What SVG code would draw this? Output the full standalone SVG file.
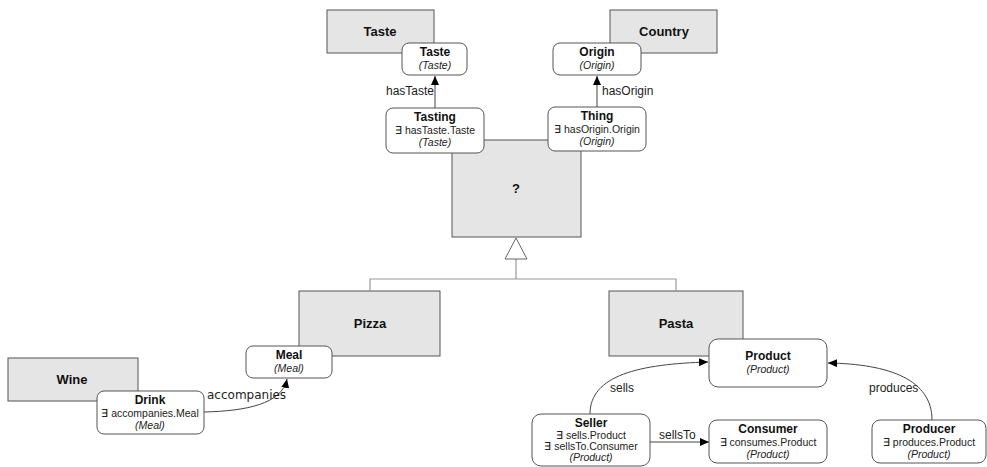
<svg xmlns="http://www.w3.org/2000/svg" width="987" height="467" viewBox="0 0 987 467">
  <style>
    .cls { fill: #e5e5e5; stroke: #555; stroke-width: 1; }
    .node { fill: #fff; stroke: #555; stroke-width: 1; }
    .big { font-family: "Liberation Sans", Arial, sans-serif; font-size: 13px; font-weight: bold; text-anchor: middle; fill: #111; }
    .t { font-family: "Liberation Sans", Arial, sans-serif; font-size: 12px; font-weight: bold; text-anchor: middle; fill: #111; }
    .s { font-family: "Liberation Sans", Arial, sans-serif; font-size: 10.5px; text-anchor: middle; fill: #222; }
    .i { font-family: "Liberation Sans", Arial, sans-serif; font-size: 10.5px; font-style: italic; text-anchor: middle; fill: #222; }
    .lbl { font-family: "Liberation Sans", Arial, sans-serif; font-size: 12px; fill: #222; }
    .lbl2 { font-family: "DejaVu Sans", sans-serif; font-size: 12px; fill: #222; }
    .edge { fill: none; stroke: #444; stroke-width: 1; }
    .isa { fill: none; stroke: #999; stroke-width: 1.2; }
  </style>
  <defs>
    <marker id="arrow" markerUnits="userSpaceOnUse" markerWidth="9" markerHeight="8" refX="9" refY="4" orient="auto">
      <path d="M0,0 L9,4 L0,8 z" fill="#000"/>
    </marker>
  </defs>

  <rect width="987" height="467" fill="#fff"/>

  <!-- concept boxes -->
  <g id="taste-class"><rect class="cls" x="327" y="10" width="107" height="43"/><text class="big" x="380" y="36">Taste</text></g>
  <g id="country-class"><rect class="cls" x="610" y="10" width="107" height="43"/><text class="big" x="664" y="36">Country</text></g>
  <g id="unknown-class"><rect class="cls" x="452" y="140" width="129" height="97"/><text class="big" x="516" y="193">?</text></g>
  <g id="pizza-class"><rect class="cls" x="299" y="291" width="141" height="65"/><text class="big" x="370" y="328">Pizza</text></g>
  <g id="pasta-class"><rect class="cls" x="609" y="291" width="134" height="65"/><text class="big" x="676" y="328">Pasta</text></g>
  <g id="wine-class"><rect class="cls" x="8" y="358" width="130" height="43"/><text class="big" x="72" y="384">Wine</text></g>

  <!-- connectors -->
  <g id="connectors">
    <path class="isa" d="M516,259 V279 M370,291 V279 H676 V291"/>
    <path d="M516,238 L527,259 L505,259 z" fill="#fff" stroke="#666" stroke-width="1"/>
    <path class="edge" d="M435,108 V76" marker-end="url(#arrow)"/>
    <path class="edge" d="M597,107 V76" marker-end="url(#arrow)"/>
    <path class="edge" d="M204,412 C246,411 282,404 287,379" marker-end="url(#arrow)"/>
    <path class="edge" d="M590,414 C590,375 640,364 708,362" marker-end="url(#arrow)"/>
    <path class="edge" d="M932,420 C932,380 890,364 828,363" marker-end="url(#arrow)"/>
    <path class="edge" d="M650,442 H709" marker-end="url(#arrow)"/>
    <text class="lbl" x="434" y="95" text-anchor="end">hasTaste</text>
    <text class="lbl" x="602" y="95">hasOrigin</text>
    <text class="lbl2" x="207" y="399">accompanies</text>
    <text class="lbl" x="610" y="392">sells</text>
    <text class="lbl" x="869" y="392">produces</text>
    <text class="lbl" x="659" y="439">sellsTo</text>
  </g>

  <!-- role nodes -->
  <g id="taste-node"><rect class="node" x="402" y="43" width="65" height="32" rx="7"/><text class="t" x="435" y="56">Taste</text><text class="i" x="435" y="69">(Taste)</text></g>
  <g id="origin-node"><rect class="node" x="553" y="43" width="88" height="32" rx="7"/><text class="t" x="597" y="56">Origin</text><text class="i" x="597" y="69">(Origin)</text></g>
  <g id="tasting-node"><rect class="node" x="386" y="108" width="98" height="45" rx="7"/><text class="t" x="435" y="121">Tasting</text><text class="s" x="435" y="134">∃ hasTaste.Taste</text><text class="i" x="435" y="146">(Taste)</text></g>
  <g id="thing-node"><rect class="node" x="548" y="107" width="98" height="44" rx="7"/><text class="t" x="597" y="120">Thing</text><text class="s" x="597" y="133">∃ hasOrigin.Origin</text><text class="i" x="597" y="145">(Origin)</text></g>
  <g id="meal-node"><rect class="node" x="246" y="346" width="86" height="32" rx="7"/><text class="t" x="289" y="359">Meal</text><text class="i" x="289" y="372">(Meal)</text></g>
  <g id="drink-node"><rect class="node" x="97" y="391" width="107" height="43" rx="7"/><text class="t" x="150" y="404">Drink</text><text class="s" x="150" y="417">∃ accompanies.Meal</text><text class="i" x="150" y="429">(Meal)</text></g>
  <g id="product-node"><rect class="node" x="709" y="339" width="118" height="48" rx="9"/><text class="t" x="768" y="360">Product</text><text class="i" x="768" y="373">(Product)</text></g>
  <g id="seller-node"><rect class="node" x="532" y="414" width="118" height="52" rx="9"/><text class="t" x="591" y="427">Seller</text><text class="s" x="591" y="439">∃ sells.Product</text><text class="s" x="591" y="450">∃ sellsTo.Consumer</text><text class="i" x="591" y="461">(Product)</text></g>
  <g id="consumer-node"><rect class="node" x="709" y="420" width="118" height="43" rx="8"/><text class="t" x="768" y="433">Consumer</text><text class="s" x="768" y="446">∃ consumes.Product</text><text class="i" x="768" y="458">(Product)</text></g>
  <g id="producer-node"><rect class="node" x="872" y="420" width="114" height="43" rx="8"/><text class="t" x="929" y="433">Producer</text><text class="s" x="929" y="446">∃ produces.Product</text><text class="i" x="929" y="458">(Product)</text></g>
</svg>
